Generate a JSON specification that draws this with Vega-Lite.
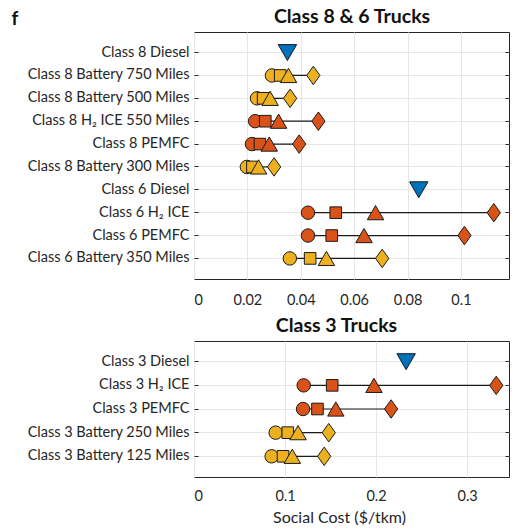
{
  "$schema": "https://vega.github.io/schema/vega-lite/v6.json",
  "padding": {"left": 10, "top": 5, "right": 0, "bottom": 0},
  "spacing": 8,
  "config": {
    "font": "Lato",
    "view": {"stroke": "#262626", "strokeWidth": 1},
    "axis": {"labelFont": "Lato", "labelFontSize": 14.5, "labelColor": "#262626", "domain": false, "gridColor": "#e6e6e6", "tickColor": "#262626", "tickSize": -4, "labelPadding": 9},
    "axisX": {"labelPadding": 14, "ticks": false},
    "title": {"font": "Lato", "fontSize": 19.5, "fontWeight": "bold", "color": "#111111"}
  },
  "datasets": {
    "top": [
      {"row": "Class 8 Diesel", "tech": "Diesel", "metric": "diesel", "value": 0.035},
      {"row": "Class 8 Battery 750 Miles", "tech": "Battery", "metric": "circle", "value": 0.0292},
      {"row": "Class 8 Battery 750 Miles", "tech": "Battery", "metric": "square", "value": 0.0323},
      {"row": "Class 8 Battery 750 Miles", "tech": "Battery", "metric": "triangle", "value": 0.0354},
      {"row": "Class 8 Battery 750 Miles", "tech": "Battery", "metric": "diamond", "value": 0.0447},
      {"row": "Class 8 Battery 500 Miles", "tech": "Battery", "metric": "circle", "value": 0.0236},
      {"row": "Class 8 Battery 500 Miles", "tech": "Battery", "metric": "square", "value": 0.0259},
      {"row": "Class 8 Battery 500 Miles", "tech": "Battery", "metric": "triangle", "value": 0.0285},
      {"row": "Class 8 Battery 500 Miles", "tech": "Battery", "metric": "diamond", "value": 0.036},
      {"row": "Class 8 H₂ ICE 550 Miles", "tech": "Hydrogen", "metric": "circle", "value": 0.0229},
      {"row": "Class 8 H₂ ICE 550 Miles", "tech": "Hydrogen", "metric": "square", "value": 0.0267},
      {"row": "Class 8 H₂ ICE 550 Miles", "tech": "Hydrogen", "metric": "triangle", "value": 0.0317},
      {"row": "Class 8 H₂ ICE 550 Miles", "tech": "Hydrogen", "metric": "diamond", "value": 0.0466},
      {"row": "Class 8 PEMFC", "tech": "Hydrogen", "metric": "circle", "value": 0.0217},
      {"row": "Class 8 PEMFC", "tech": "Hydrogen", "metric": "square", "value": 0.0247},
      {"row": "Class 8 PEMFC", "tech": "Hydrogen", "metric": "triangle", "value": 0.0282},
      {"row": "Class 8 PEMFC", "tech": "Hydrogen", "metric": "diamond", "value": 0.0394},
      {"row": "Class 8 Battery 300 Miles", "tech": "Battery", "metric": "circle", "value": 0.0198},
      {"row": "Class 8 Battery 300 Miles", "tech": "Battery", "metric": "square", "value": 0.0219},
      {"row": "Class 8 Battery 300 Miles", "tech": "Battery", "metric": "triangle", "value": 0.0242},
      {"row": "Class 8 Battery 300 Miles", "tech": "Battery", "metric": "diamond", "value": 0.030},
      {"row": "Class 6 Diesel", "tech": "Diesel", "metric": "diesel", "value": 0.0842},
      {"row": "Class 6 H₂ ICE", "tech": "Hydrogen", "metric": "circle", "value": 0.0427},
      {"row": "Class 6 H₂ ICE", "tech": "Hydrogen", "metric": "square", "value": 0.0531},
      {"row": "Class 6 H₂ ICE", "tech": "Hydrogen", "metric": "triangle", "value": 0.068},
      {"row": "Class 6 H₂ ICE", "tech": "Hydrogen", "metric": "diamond", "value": 0.1123},
      {"row": "Class 6 PEMFC", "tech": "Hydrogen", "metric": "circle", "value": 0.0427},
      {"row": "Class 6 PEMFC", "tech": "Hydrogen", "metric": "square", "value": 0.0516},
      {"row": "Class 6 PEMFC", "tech": "Hydrogen", "metric": "triangle", "value": 0.0637},
      {"row": "Class 6 PEMFC", "tech": "Hydrogen", "metric": "diamond", "value": 0.1013},
      {"row": "Class 6 Battery 350 Miles", "tech": "Battery", "metric": "circle", "value": 0.0359},
      {"row": "Class 6 Battery 350 Miles", "tech": "Battery", "metric": "square", "value": 0.0435},
      {"row": "Class 6 Battery 350 Miles", "tech": "Battery", "metric": "triangle", "value": 0.0496},
      {"row": "Class 6 Battery 350 Miles", "tech": "Battery", "metric": "diamond", "value": 0.0705}
    ],
    "bottom": [
      {"row": "Class 3 Diesel", "tech": "Diesel", "metric": "diesel", "value": 0.233},
      {"row": "Class 3 H₂ ICE", "tech": "Hydrogen", "metric": "circle", "value": 0.1205},
      {"row": "Class 3 H₂ ICE", "tech": "Hydrogen", "metric": "square", "value": 0.1518},
      {"row": "Class 3 H₂ ICE", "tech": "Hydrogen", "metric": "triangle", "value": 0.1977},
      {"row": "Class 3 H₂ ICE", "tech": "Hydrogen", "metric": "diamond", "value": 0.332},
      {"row": "Class 3 PEMFC", "tech": "Hydrogen", "metric": "circle", "value": 0.1198},
      {"row": "Class 3 PEMFC", "tech": "Hydrogen", "metric": "square", "value": 0.1356},
      {"row": "Class 3 PEMFC", "tech": "Hydrogen", "metric": "triangle", "value": 0.1558},
      {"row": "Class 3 PEMFC", "tech": "Hydrogen", "metric": "diamond", "value": 0.2165},
      {"row": "Class 3 Battery 250 Miles", "tech": "Battery", "metric": "circle", "value": 0.0897},
      {"row": "Class 3 Battery 250 Miles", "tech": "Battery", "metric": "square", "value": 0.103},
      {"row": "Class 3 Battery 250 Miles", "tech": "Battery", "metric": "triangle", "value": 0.1143},
      {"row": "Class 3 Battery 250 Miles", "tech": "Battery", "metric": "diamond", "value": 0.148},
      {"row": "Class 3 Battery 125 Miles", "tech": "Battery", "metric": "circle", "value": 0.0853},
      {"row": "Class 3 Battery 125 Miles", "tech": "Battery", "metric": "square", "value": 0.0978},
      {"row": "Class 3 Battery 125 Miles", "tech": "Battery", "metric": "triangle", "value": 0.108},
      {"row": "Class 3 Battery 125 Miles", "tech": "Battery", "metric": "diamond", "value": 0.143}
    ]
  },
  "vconcat": [
    {
      "width": 315,
      "height": 247,
      "data": {"name": "top"},
      "resolve": {"axis": {"x": "independent", "y": "independent"}},
      "layer": [
        {
          "transform": [{"filter": "datum.metric != 'diesel'"}],
          "mark": {"type": "rule", "color": "#1a1a1a", "strokeWidth": 1.2},
          "encoding": {
            "y": {
              "field": "row", "type": "nominal",
              "sort": ["Class 8 Diesel", "Class 8 Battery 750 Miles", "Class 8 Battery 500 Miles", "Class 8 H₂ ICE 550 Miles", "Class 8 PEMFC", "Class 8 Battery 300 Miles", "Class 6 Diesel", "Class 6 H₂ ICE", "Class 6 PEMFC", "Class 6 Battery 350 Miles"],
              "scale": {"padding": 0.8},
              "axis": {"orient": "left", "title": "f", "titleAngle": 0, "titleAlign": "left", "titleBaseline": "alphabetic", "titleX": -183, "titleY": -8, "titleFontSize": 19, "titleFontWeight": "bold", "titleColor": "#111111", "grid": true}
            },
            "x": {"aggregate": "min", "field": "value", "type": "quantitative", "title": null,
              "scale": {"domain": [0, 0.118], "nice": false},
              "axis": {"orient": "bottom", "values": [0, 0.02, 0.04, 0.06, 0.08, 0.1], "format": "~g", "grid": true}},
            "x2": {"aggregate": "max", "field": "value"}
          }
        },
        {
          "mark": {"type": "point", "filled": true, "opacity": 1, "stroke": "#1a1a1a", "strokeWidth": 1},
          "encoding": {
            "y": {
              "field": "row", "type": "nominal",
              "sort": ["Class 8 Diesel", "Class 8 Battery 750 Miles", "Class 8 Battery 500 Miles", "Class 8 H₂ ICE 550 Miles", "Class 8 PEMFC", "Class 8 Battery 300 Miles", "Class 6 Diesel", "Class 6 H₂ ICE", "Class 6 PEMFC", "Class 6 Battery 350 Miles"],
              "axis": {"orient": "right", "title": null, "labels": false, "grid": false, "ticks": true}
            },
            "x": {"field": "value", "type": "quantitative", "title": "Class 8 & 6 Trucks",
              "axis": {"orient": "top", "labels": false, "ticks": false, "grid": false, "domain": false, "titleFont": "Lato", "titleFontSize": 19.5, "titleFontWeight": "bold", "titleColor": "#111111", "titlePadding": 6}},
            "shape": {"field": "metric", "type": "nominal", "legend": null,
              "scale": {"domain": ["circle", "square", "triangle", "diamond", "diesel"], "range": ["circle", "square", "triangle-up", "M0,-1L0.72,0L0,1L-0.72,0Z", "triangle-down"]}},
            "size": {"field": "metric", "type": "nominal", "legend": null,
              "scale": {"type": "ordinal", "domain": ["circle", "square", "triangle", "diamond", "diesel"], "range": [180, 135, 270, 340, 340]}},
            "color": {"field": "tech", "type": "nominal", "legend": null,
              "scale": {"domain": ["Battery", "Hydrogen", "Diesel"], "range": ["#EDB120", "#D95319", "#0072BD"]}}
          }
        }
      ]
    },
    {
      "width": 315,
      "height": 136,
      "data": {"name": "bottom"},
      "title": {"text": "Class 3 Trucks", "offset": 5, "dx": -15, "frame": "group"},
      "resolve": {"axis": {"y": "independent"}},
      "layer": [
        {
          "transform": [{"filter": "datum.metric != 'diesel'"}],
          "mark": {"type": "rule", "color": "#1a1a1a", "strokeWidth": 1.2},
          "encoding": {
            "y": {
              "field": "row", "type": "nominal",
              "sort": ["Class 3 Diesel", "Class 3 H₂ ICE", "Class 3 PEMFC", "Class 3 Battery 250 Miles", "Class 3 Battery 125 Miles"],
              "scale": {"padding": 0.75},
              "axis": {"orient": "left", "title": null, "grid": true}
            },
            "x": {"aggregate": "min", "field": "value", "type": "quantitative", "title": "Social Cost ($/tkm)",
              "scale": {"domain": [0, 0.346], "nice": false},
              "axis": {"values": [0, 0.1, 0.2, 0.3], "format": "~g", "grid": true, "labelPadding": 12, "titleFont": "Lato", "titleFontSize": 16, "titleFontWeight": "normal", "titleColor": "#262626", "titleX": 145, "titlePadding": 7}},
            "x2": {"aggregate": "max", "field": "value"}
          }
        },
        {
          "mark": {"type": "point", "filled": true, "opacity": 1, "stroke": "#1a1a1a", "strokeWidth": 1},
          "encoding": {
            "y": {
              "field": "row", "type": "nominal",
              "sort": ["Class 3 Diesel", "Class 3 H₂ ICE", "Class 3 PEMFC", "Class 3 Battery 250 Miles", "Class 3 Battery 125 Miles"],
              "axis": {"orient": "right", "title": null, "labels": false, "grid": false, "ticks": true}
            },
            "x": {"field": "value", "type": "quantitative", "title": "Social Cost ($/tkm)"},
            "shape": {"field": "metric", "type": "nominal", "legend": null,
              "scale": {"domain": ["circle", "square", "triangle", "diamond", "diesel"], "range": ["circle", "square", "triangle-up", "M0,-1L0.72,0L0,1L-0.72,0Z", "triangle-down"]}},
            "size": {"field": "metric", "type": "nominal", "legend": null,
              "scale": {"type": "ordinal", "domain": ["circle", "square", "triangle", "diamond", "diesel"], "range": [180, 135, 270, 340, 340]}},
            "color": {"field": "tech", "type": "nominal", "legend": null,
              "scale": {"domain": ["Battery", "Hydrogen", "Diesel"], "range": ["#EDB120", "#D95319", "#0072BD"]}}
          }
        }
      ]
    }
  ]
}
